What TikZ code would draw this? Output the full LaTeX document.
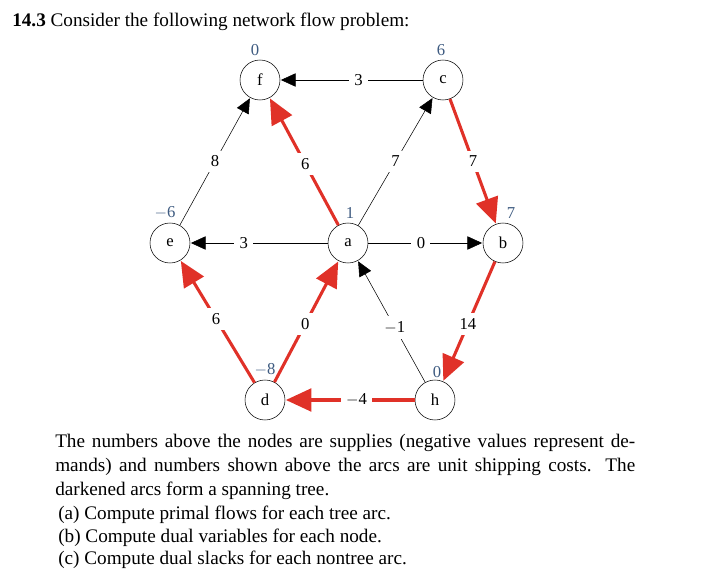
\documentclass[tikz,border=0pt]{standalone}
\usepackage{fontspec}
\setmainfont{Liberation Serif}
\usetikzlibrary{arrows.meta, positioning}

\definecolor{supblue}{HTML}{3D5A80}
\definecolor{treered}{HTML}{E03128}

\tikzset{
  vertex/.style={draw, circle, minimum size=30pt, inner sep=0pt, font=\fontsize{12.5}{12.5}\selectfont},
  plain/.style={-{Triangle[length=11pt, width=10pt]}, thin, shorten >=0.5pt},
  tree/.style={-{Triangle[length=19pt, width=17pt]}, draw=treered, line width=2.3pt, shorten >=0.5pt},
  cost/.style={fill=white, inner sep=4pt, font=\fontsize{12.5}{12.5}\selectfont},
  supply/.style={text=supblue, font=\fontsize{12.5}{12.5}\selectfont},
  txt/.style={anchor=base west, inner sep=0pt, font=\fontsize{14.4}{17}\selectfont}
}

\begin{document}
\begin{tikzpicture}[x=0.75pt, y=-0.75pt]
    \useasboundingbox (0,0) rectangle (707,577);

    % title
    \node[txt] (title) at (12,27) {\textbf{14.3} Consider the following network flow problem:};

    % Nodes
    \node[vertex] (f) at (260,80) {f};
    \node[vertex] (c) at (443,80) {c};
    \node[vertex] (e) at (170,243) {e};
    \node[vertex] (a) at (348,243) {a};
    \node[vertex] (b) at (503,243) {b};
    \node[vertex] (d) at (265,400) {d};
    \node[vertex] (h) at (435,400) {h};

    % supplies
    \node[supply] (sf) at (255,50) {0};
    \node[supply] (sc) at (441,50) {6};
    \node[supply] (se) at (165,213) {$-$6};
    \node[supply] (sa) at (350,213) {1};
    \node[supply] (sb) at (511,213) {7};
    \node[supply] (sd) at (265,370) {$-$8};
    \node[supply] (sh) at (437,372) {0};

    % nontree arcs
    \draw[plain] (c) -- node[cost, pos=0.45] {3} (f);
    \draw[plain] (e) -- node[cost, pos=0.5] {8} (f);
    \draw[plain] (a) -- node[cost, pos=0.5] {7} (c);
    \draw[plain] (a) -- node[cost, pos=0.61] {3} (e);
    \draw[plain] (a) -- node[cost, pos=0.46] {0} (b);
    \draw[plain] (h) -- node[cost, pos=0.45] {$-$1} (a);

    % tree arcs
    \draw[tree] (a) -- node[cost, pos=0.48] {6} (f);
    \draw[tree] (c) -- node[cost, pos=0.5] {7} (b);
    \draw[tree] (b) -- node[cost, pos=0.52] {14} (h);
    \draw[tree] (d) -- node[cost, pos=0.52] {6} (e);
    \draw[tree] (d) -- node[cost, pos=0.48] {0} (a);
    \draw[tree] (h) -- node[cost, pos=0.45] {$-$4} (d);

    % text below
    \node[txt] (l1) at (55,447) {\makebox[435pt][s]{The numbers above the nodes are supplies (negative values represent de-}};
    \node[txt] (l2) at (55,471) {\makebox[435pt][s]{mands) and numbers shown above the arcs are unit shipping costs. The}};
    \node[txt] (l3) at (55,495) {darkened arcs form a spanning tree.};
    \node[txt] (l4) at (58,519) {(a) Compute primal flows for each tree arc.};
    \node[txt] (l5) at (58,542) {(b) Compute dual variables for each node.};
    \node[txt] (l6) at (58,564) {(c) Compute dual slacks for each nontree arc.};
\end{tikzpicture}
\end{document}
